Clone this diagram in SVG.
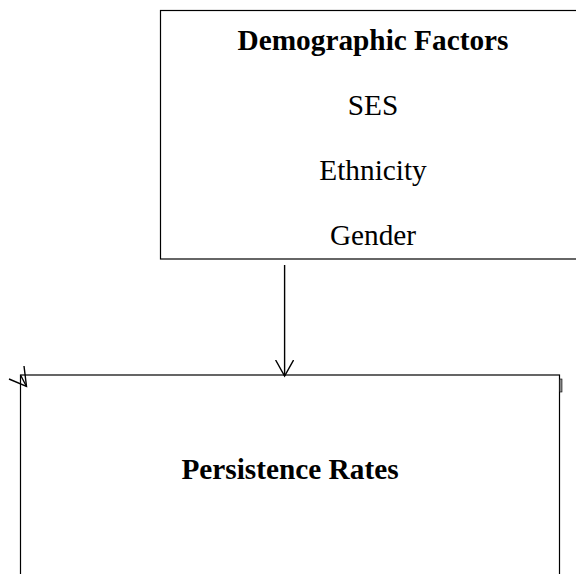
<svg xmlns="http://www.w3.org/2000/svg" width="576" height="574" viewBox="0 0 576 574">
<defs>
<style>
.box{fill:#fff;stroke:#000;stroke-width:1.2}
.t{font-family:"Liberation Serif","Times New Roman",serif;font-size:29.3px;fill:#000;text-anchor:middle}
.b{font-weight:bold}
.c{fill:none;stroke:#000;stroke-width:1.4}
</style>
<marker id="arr" markerWidth="20" markerHeight="20" refX="16" refY="9" orient="auto" markerUnits="userSpaceOnUse">
<path d="M0,0 L16,9 L0,18" fill="none" stroke="#000" stroke-width="1.4"/>
</marker>
</defs>
<rect width="576" height="574" fill="#fff"/>
<g id="demographic-factors">
<rect class="box" x="160.5" y="10.5" width="440" height="248.5"/>
<text class="t b" x="373" y="49.6">Demographic Factors</text>
<text class="t" x="373" y="114.5">SES</text>
<text class="t" x="373" y="180">Ethnicity</text>
<text class="t" x="373" y="245.3">Gender</text>
</g>
<g id="persistence-rates">
<rect class="box" x="20.5" y="375" width="539" height="230"/>
<rect x="559.5" y="379" width="2.5" height="13" fill="#888" stroke="#000" stroke-width="0.6"/>
<text class="t b" x="290" y="479">Persistence Rates</text>
</g>
<g id="connectors">
<line class="c" x1="284.6" y1="265" x2="284.6" y2="376" marker-end="url(#arr)"/>
<line class="c" x1="20.5" y1="375" x2="26.5" y2="386.5"/>
<path class="c" d="M9,379 L26.5,386.5 L24,366"/>
</g>
</svg>
